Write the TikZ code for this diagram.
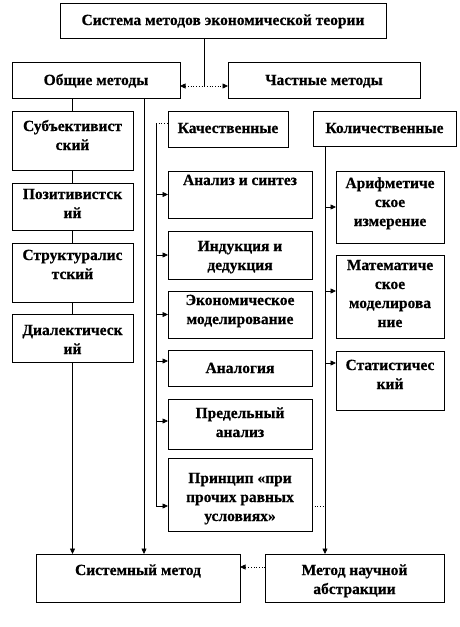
\documentclass[tikz,border=0pt]{standalone}
\usepackage{fontspec}
\setmainfont[BoldFeatures={FakeBold=0.5}]{Liberation Serif}
\usetikzlibrary{arrows.meta,shadows,calc}
\tikzset{
  box/.style={draw=black, line width=0.7pt, fill=white, anchor=north west,
    inner sep=0pt, outer sep=0pt,
    general shadow={fill=gray!60, shadow xshift=0.9pt, shadow yshift=-1.1pt}},
  conn/.style={line width=0.7pt},
  arr/.style={conn, -{Triangle[length=5.5pt,width=5pt]}},
  dotconn/.style={conn, dotted},
  dotarr/.style={conn, dotted, -{Triangle[length=5.5pt,width=5pt]}},
  dotboth/.style={conn, dotted, {Triangle[length=5.5pt,width=5pt]}-{Triangle[length=5.5pt,width=5pt]}},
}
\newcommand\bx[7]{%
  \node[box] (#1) at (#2,#3)
    {\parbox[c][\dimexpr#5pt-#3pt\relax][t]{\dimexpr#4pt-#2pt\relax}{\centering\rule{0pt}{#6pt}#7}};}
\begin{document}
\begin{tikzpicture}[x=1pt,y=-1pt,font=\fontsize{15.5}{19}\selectfont\bfseries]
\useasboundingbox (0,0) rectangle (459,627);
% coordinates of spines
\coordinate (tj) at (204,86);
\coordinate (ms) at (144,0);
\coordinate (qtop) at (156,123);
\coordinate (qbot) at (156,506);
\coordinate (qa) at (156,361);
\coordinate (qp) at (156,421);
\coordinate (ks) at (325,0);
\coordinate (k1) at (325,207);
\coordinate (k2) at (325,291);
\coordinate (k3) at (325,363);
\coordinate (mb) at (265,567);
% boxes
\bx{top}{60}{3}{386}{38}{22}{Система методов экономической теории}
\bx{obsh}{12}{62}{180}{98}{23}{Общие методы}
\bx{chast}{228}{62}{420}{98}{23}{Частные методы}
\bx{subj}{12}{111}{133}{170}{20}{Субъективист\\ский}
\bx{poz}{12}{183}{133}{230}{16}{Позитивистск\\ий}
\bx{str}{12}{243}{133}{302}{17}{Структуралис\\тский}
\bx{dial}{12}{314}{133}{362}{21}{Диалектическ\\ий}
\bx{kach}{168}{111}{288}{147}{22}{Качественные}
\bx{kol}{313}{111}{456}{146}{22}{Количественные}
\bx{an}{168}{171}{312}{218}{14}{Анализ и синтез}
\bx{ind}{168}{231}{312}{279}{20}{Индукция и\\дедукция}
\bx{eco}{168}{291}{312}{338}{14}{Экономическое\\моделирование}
\bx{analog}{168}{350}{312}{386}{23}{Аналогия}
\bx{pred}{168}{399}{312}{449}{19}{Предельный\\анализ}
\bx{princ}{168}{458}{312}{531}{25}{Принцип «при\\прочих равных\\условиях»}
\bx{ar}{336}{171}{444}{243}{17}{Арифметиче\\ское\\измерение}
\bx{mat}{336}{255}{444}{338}{15}{Математиче\\ское\\моделирова\\ние}
\bx{stat}{336}{351}{444}{410}{19}{Статистичес\\кий}
\bx{sys}{36}{554}{240}{602}{21}{Системный метод}
\bx{metod}{265}{554}{444}{602}{21}{Метод научной\\абстракции}
% connectors
\draw[conn] (top.south -| tj) -- (tj);
\draw[dotboth] (obsh.east |- tj) -- (chast.west |- tj);
\draw[conn] (obsh.south -| subj.north) -- (subj.north);
\draw[conn] (subj.south) -- (poz.north);
\draw[conn] (poz.south) -- (str.north);
\draw[conn] (str.south) -- (dial.north);
\draw[arr] (dial.south) -- (sys.north -| dial.south);
\draw[arr] (obsh.south -| ms) -- (sys.north -| ms);
\draw[dotconn] (qtop) -- (qtop -| kach.west);
\draw[conn] (qtop) -- (qbot);
\draw[arr] (qtop |- an.west) -- (an.west);
\draw[arr] (qtop |- ind.west) -- (ind.west);
\draw[arr] (qtop |- eco.west) -- (eco.west);
\draw[arr] (qa) -- (qa -| analog.west);
\draw[arr] (qp) -- (qp -| pred.west);
\draw[arr] (qbot) -- (qbot -| princ.west);
\draw[arr] (kol.south -| ks) -- (metod.north -| ks);
\draw[arr] (k1) -- (k1 -| ar.west);
\draw[arr] (k2) -- (k2 -| mat.west);
\draw[arr] (k3) -- (k3 -| stat.west);
\draw[dotconn] (princ.east |- qbot) -- (ks |- qbot);
\draw[dotarr] (mb) -- (mb -| sys.east);
\end{tikzpicture}
\end{document}
